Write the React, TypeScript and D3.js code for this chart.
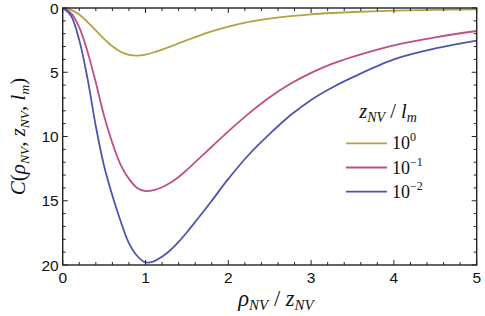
import React from "react";
import * as d3 from "d3";

// x grid (rho_NV / z_NV)
const xs = [0, 0.1, 0.2, 0.3, 0.4, 0.5, 0.6, 0.7, 0.8, 0.9, 1.0, 1.1, 1.2, 1.3, 1.4, 1.5, 1.6, 1.8, 2.0, 2.25, 2.5, 2.75, 3.0, 3.25, 3.5, 4.0, 4.5, 5.0];

// one value per x
const c100 = [0, 0.15, 0.5, 1.1, 1.75, 2.4, 2.98, 3.4, 3.64, 3.7, 3.63, 3.46, 3.24, 3.0, 2.75, 2.5, 2.26, 1.82, 1.45, 1.08, 0.82, 0.63, 0.49, 0.39, 0.31, 0.21, 0.15, 0.11];
const c101 = [0, 0.4, 1.5, 3.4, 5.8, 8.4, 10.5, 12.2, 13.3, 14.0, 14.25, 14.18, 13.95, 13.6, 13.15, 12.6, 12.0, 10.8, 9.6, 8.2, 6.95, 5.9, 5.05, 4.35, 3.8, 2.9, 2.28, 1.79];
const c102 = [0, 0.6, 2.5, 5.5, 9.2, 12.3, 14.6, 16.6, 18.3, 19.3, 19.8, 19.72, 19.35, 18.85, 18.2, 17.45, 16.65, 15.0, 13.3, 11.4, 9.8, 8.35, 7.15, 6.2, 5.4, 4.0, 3.15, 2.54];

const seriesNames = ["0", "\u22121", "\u22122"];
const seriesColors = ["#b3a243", "#bd4f88", "#4f55ad"];
const seriesValues = [c100, c101, c102];

const xTicks = [0, 1, 2, 3, 4, 5];
const yTicks = [0, 5, 10, 15, 20];

const W = 485;
const H = 316;
const left = 62.7;
const right = 476.7;
const top = 8;
const bottom = 265;

export default function App() {
  const x = d3.scaleLinear().domain([0, 5]).range([left, right]);
  const y = d3.scaleLinear().domain([0, 20]).range([top, bottom]);

  const line = d3
    .line<number>()
    .x((_, i) => x(xs[i]))
    .y((d) => y(d))
    .curve(d3.curveCatmullRom.alpha(0.5));

  const xMinor = d3.range(0, 5.001, 0.2).filter((v) => Math.abs(v - Math.round(v)) > 1e-6);
  const yMinor = d3.range(0, 20.001, 1).filter((v) => v % 5 !== 0);

  const sans = "Liberation Sans, Arial, sans-serif";
  const serif = "Liberation Serif, Times New Roman, serif";
  const axisColor = "#222";

  return (
    <svg width={W} height={H} style={{ position: "absolute", left: 0, top: 0 }}>
      <rect width={W} height={H} fill="#fff" />
      <defs>
        <clipPath id="plot">
          <rect x={left} y={top} width={right - left} height={bottom - top} />
        </clipPath>
      </defs>

      {/* curves */}
      <g clipPath="url(#plot)">
        {seriesValues.map((vals, i) => (
          <path key={i} d={line(vals) || ""} fill="none" stroke={seriesColors[i]} strokeWidth={1.8} />
        ))}
      </g>

      {/* frame */}
      <rect x={left} y={top} width={right - left} height={bottom - top} fill="none" stroke={axisColor} strokeWidth={1.4} />

      {/* ticks, inward on all four sides */}
      {xTicks.map((t) => (
        <g key={"xt" + t}>
          <line x1={x(t)} x2={x(t)} y1={bottom} y2={bottom - 5} stroke={axisColor} />
          <line x1={x(t)} x2={x(t)} y1={top} y2={top + 5} stroke={axisColor} />
        </g>
      ))}
      {xMinor.map((t) => (
        <g key={"xm" + t}>
          <line x1={x(t)} x2={x(t)} y1={bottom} y2={bottom - 3} stroke={axisColor} />
          <line x1={x(t)} x2={x(t)} y1={top} y2={top + 3} stroke={axisColor} />
        </g>
      ))}
      {yTicks.map((t) => (
        <g key={"yt" + t}>
          <line x1={left} x2={left + 5} y1={y(t)} y2={y(t)} stroke={axisColor} />
          <line x1={right} x2={right - 5} y1={y(t)} y2={y(t)} stroke={axisColor} />
        </g>
      ))}
      {yMinor.map((t) => (
        <g key={"ym" + t}>
          <line x1={left} x2={left + 3} y1={y(t)} y2={y(t)} stroke={axisColor} />
          <line x1={right} x2={right - 3} y1={y(t)} y2={y(t)} stroke={axisColor} />
        </g>
      ))}

      {/* tick labels */}
      {xTicks.map((t) => (
        <text key={"xl" + t} x={x(t)} y={bottom + 18} textAnchor="middle" fontFamily={sans} fontSize={15.5} fill="#111">
          {t}
        </text>
      ))}
      {yTicks.map((t) => (
        <text key={"yl" + t} x={left - 4} y={y(t) + 5.5} textAnchor="end" fontFamily={sans} fontSize={15.5} fill="#111">
          {t}
        </text>
      ))}

      {/* axis titles */}
      <text x={276} y={306} textAnchor="middle" fontFamily={serif} fontStyle="italic" fontSize={22.5} fill="#111">
        ρ<tspan fontSize={15} dy={4}>NV</tspan>
        <tspan dy={-4} fontStyle="normal"> / </tspan>z<tspan fontSize={15} dy={4}>NV</tspan>
      </text>
      <text
        transform={`translate(25,${(top + bottom) / 2}) rotate(-90)`}
        textAnchor="middle"
        fontFamily={serif}
        fontStyle="italic"
        fontSize={21}
        fill="#111"
      >
        C<tspan fontStyle="normal">(</tspan>ρ<tspan fontSize={13.5} dy={4}>NV</tspan>
        <tspan dy={-4} fontStyle="normal">, </tspan>z<tspan fontSize={13.5} dy={4}>NV</tspan>
        <tspan dy={-4} fontStyle="normal">, </tspan>l<tspan fontSize={13.5} dy={4}>m</tspan>
        <tspan dy={-4} fontStyle="normal">)</tspan>
      </text>

      {/* legend */}
      <text x={388} y={118} textAnchor="middle" fontFamily={serif} fontStyle="italic" fontSize={20.5} fill="#111">
        z<tspan fontSize={14} dy={4}>NV</tspan>
        <tspan dy={-4} fontStyle="normal"> / </tspan>l<tspan fontSize={14} dy={4}>m</tspan>
      </text>
      {seriesNames.map((name, i) => {
        const ly = 143.3 + i * 24.2;
        return (
          <g key={"lg" + i}>
            <line x1={346} x2={387} y1={ly} y2={ly} stroke={seriesColors[i]} strokeWidth={1.8} />
            <text x={392} y={ly + 6} fontFamily={serif} fontSize={18} fill="#111">
              10<tspan fontSize={12} dy={-8}>{name}</tspan>
            </text>
          </g>
        );
      })}
    </svg>
  );
}
